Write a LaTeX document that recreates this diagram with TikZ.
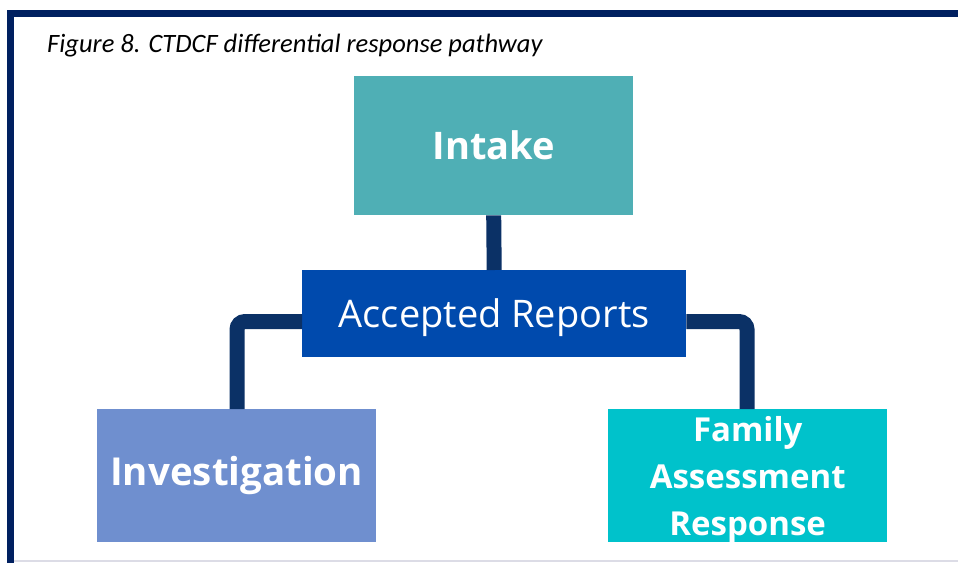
\documentclass[tikz,border=0pt]{standalone}
\usepackage{fontspec}
\setmainfont{Open Sans}
\newfontfamily\titlefont{Carlito}
\definecolor{framec}{HTML}{002060}
\definecolor{linkc}{HTML}{0B3166}
\definecolor{intakec}{HTML}{4FAFB5}
\definecolor{acceptc}{HTML}{004AAD}
\definecolor{investc}{HTML}{6F8FCF}
\definecolor{farc}{HTML}{00C2CB}
\definecolor{bottomc}{HTML}{DCDCE6}
\tikzset{
  box/.style={draw=none, text=white, inner sep=0pt, anchor=north west, align=center},
  link/.style={draw=linkc, line width=15pt, rounded corners=8pt},
}
\newcommand{\lowered}[1]{\raisebox{-4pt}[\height][\depth]{#1}}
\begin{document}
\begin{tikzpicture}[x=1pt,y=-1pt]
\useasboundingbox (0,0) rectangle (958,563);
\fill[white] (0,0) rectangle (958,563);
% frame
\fill[framec] (7,10) rectangle (958,17);
\fill[framec] (7,10) rectangle (14,563);
\fill[bottomc] (14,560) rectangle (958,562);
% title
\node[anchor=base west, inner sep=0pt, font=\titlefont\itshape\fontsize{26.5}{32}\selectfont] (title) at (47,52) {Figure 8. CTDCF differential response pathway};
% boxes
\node[box, fill=intakec, minimum width=279pt, minimum height=139pt, font=\bfseries\fontsize{38}{46}\selectfont] (intake) at (354,76) {Intake};
\node[box, fill=acceptc, minimum width=384pt, minimum height=87pt, font=\fontsize{38}{46}\selectfont] (accept) at (302,270) {\lowered{Accepted Reports}};
\node[box, fill=investc, minimum width=279pt, minimum height=133pt, font=\bfseries\fontsize{38.5}{46}\selectfont] (invest) at (97,409) {Investigation};
\node[box, fill=farc, minimum width=279pt, minimum height=133pt, font=\bfseries\fontsize{33}{47}\selectfont] (far) at (608,409) {\lowered{\parbox{279pt}{\centering Family\\Assessment\\Response}}};
% connectors
\draw[link] (intake.south) -- (accept.north);
\coordinate (lcorner) at (237,321.5);
\coordinate (rcorner) at (747,321.5);
\draw[link] (accept.west |- lcorner) -- (lcorner) -- (lcorner |- invest.north);
\draw[link] (accept.east |- rcorner) -- (rcorner) -- (rcorner |- far.north);
\end{tikzpicture}
\end{document}
